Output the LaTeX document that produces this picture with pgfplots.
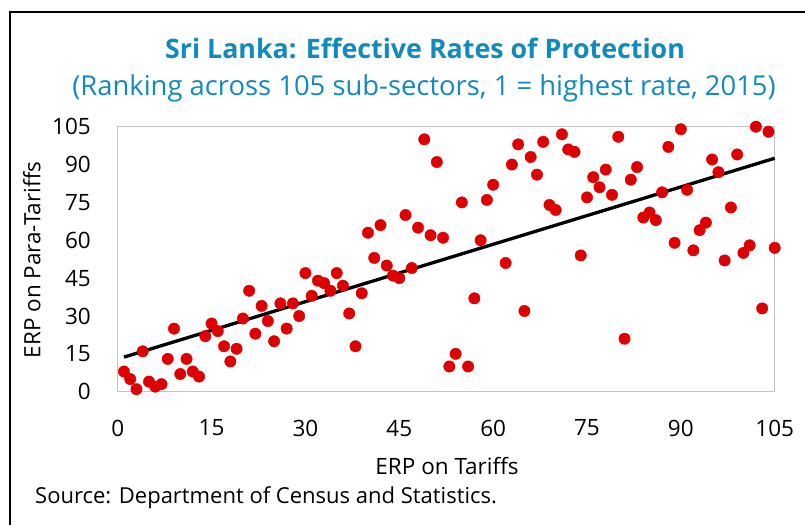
\documentclass[border=0pt]{standalone}
\usepackage{pgfplots}
\pgfplotsset{compat=1.18}
\usepackage{fontspec}
\setmainfont{Open Sans}
\definecolor{ttl}{RGB}{17,138,190}
\definecolor{dot}{RGB}{222,0,0}
\definecolor{frm}{RGB}{195,195,195}
\begin{document}
\begin{tikzpicture}
\useasboundingbox (0pt,0pt) rectangle (805pt,-525pt);
\draw[line width=2.2pt] (10pt,-525pt) -- (10pt,-12pt) -- (805pt,-12pt);
\node[text=ttl, font=\fontsize{26.8}{30}\selectfont\bfseries, anchor=center] at (425pt,-48pt) {Sri Lanka: Effective Rates of Protection};
\node[text=ttl, font=\fontsize{27.4}{30}\selectfont, anchor=center] at (424pt,-88pt) {(Ranking across 105 sub-sectors, 1 = highest rate, 2015)};
\begin{axis}[
  at={(117.7pt,-391.7pt)}, anchor=south west,
  scale only axis, width=657pt, height=265pt,
  xmin=0, xmax=105, ymin=0, ymax=105,
  xtick={0,15,...,105}, ytick={0,15,...,105},
  major tick length=0pt,
  axis line style={frm, line width=1pt},
  tick label style={font=\fontsize{22.5}{24}\selectfont, inner sep=0pt},
  /pgf/number format/assume math mode=true,
  xticklabel style={anchor=north, yshift=-28pt},
  yticklabel style={anchor=east, xshift=-26.7pt},
  clip=false,
]
\addplot[only marks, mark=*, mark size=5.7pt, mark options={fill=dot, draw=dot}] coordinates {
(1,8) (2,5) (3,1) (4,16) (5,4) (6,2) (7,3) (8,13) (9,25) (10,7)
(11,13) (12,8) (13,6) (14,22) (15,27) (16,24) (17,18) (18,12) (19,17) (20,29)
(21,40) (22,23) (23,34) (24,28) (25,20) (26,35) (27,25) (28,35) (29,30) (30,47)
(31,38) (32,44) (33,43) (34,40) (35,47) (36,42) (37,31) (38,18) (39,39) (40,63)
(41,53) (42,66) (43,50) (44,46) (45,45) (46,70) (47,49) (48,65) (49,100) (50,62)
(51,91) (52,61) (53,10) (54,15) (55,75) (56,10) (57,37) (58,60) (59,76) (60,82)
(62,51) (63,90) (64,98) (65,32) (66,93) (67,86) (68,99) (69,74) (70,72)
(71,102) (72,96) (73,95) (74,54) (75,77) (76,85) (77,81) (78,88) (79,78) (80,101)
(81,21) (82,84) (83,89) (84,69) (85,71) (86,68) (87,79) (88,97) (89,59) (90,104)
(91,80) (92,56) (93,64) (94,67) (95,92) (96,87) (97,52) (98,73) (99,94) (100,55)
(101,58) (102,105) (103,33) (104,103) (105,57)
};
\addplot[black, line width=3.3pt] coordinates {(1,13.7) (105,92.5)};
\end{axis}
\node[font=\fontsize{22.5}{24}\selectfont, rotate=90, anchor=center] at (32pt,-260pt) {ERP on Para-Tariffs};
\node[font=\fontsize{22.5}{24}\selectfont, anchor=center] at (447pt,-466pt) {ERP on Tariffs};
\node[font=\fontsize{22}{24}\selectfont, anchor=west, inner sep=0pt] at (35pt,-498pt) {Source: Department of Census and Statistics.};
\end{tikzpicture}
\end{document}
